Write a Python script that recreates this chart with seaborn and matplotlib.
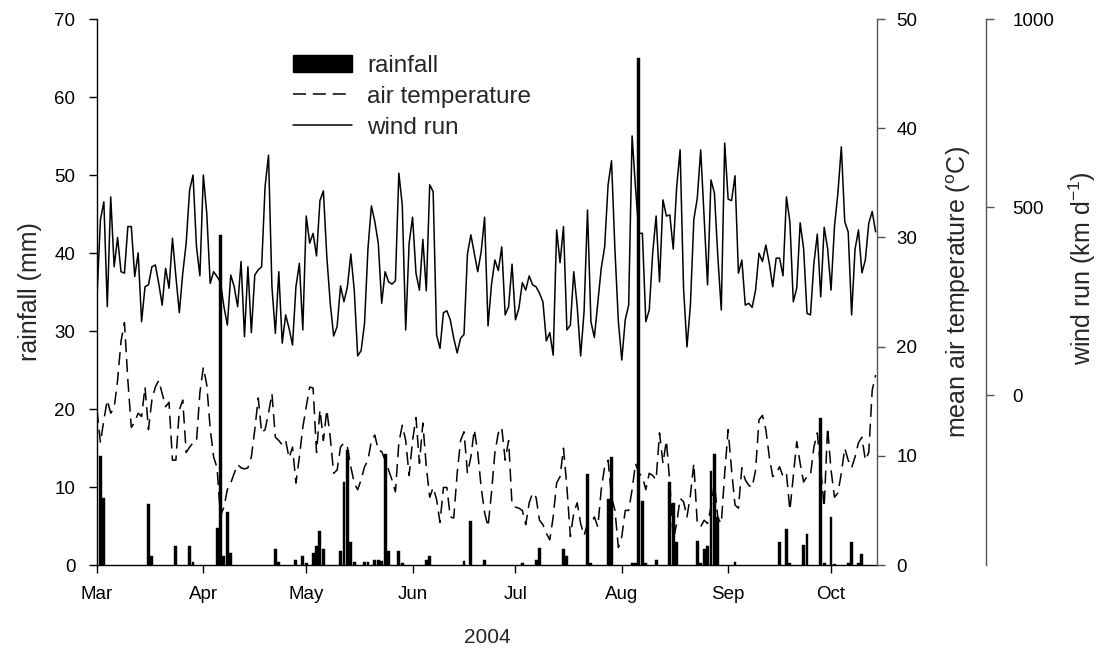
import numpy as np
import pandas as pd
import matplotlib
matplotlib.use("Agg")
import matplotlib.pyplot as plt
import matplotlib.dates as mdates
from matplotlib.lines import Line2D
from matplotlib.patches import Patch
import seaborn as sns

# ---------------- data (daily, 1 Mar 2004 .. 14 Oct 2004) ----------------
start_date = "2004-03-01"
n_days = 228

# rainfall: day index (0 = 1 Mar) and amount (mm)
rain_day = [1, 2, 15, 16, 23, 27, 28, 35, 36, 37, 38, 39,
            52, 53, 58, 60, 61, 63, 64, 65, 66, 71, 72, 73, 74, 75, 78, 79, 81,
            82, 83, 84, 85, 88, 89, 96, 97, 107, 109, 113, 124, 128, 129, 136, 137,
            143, 144, 149, 150, 156, 157, 158, 159, 160, 163,
            167, 168, 169, 175, 176, 177, 178, 179, 180, 181, 186,
            199, 201, 202, 206, 207, 211, 212, 214, 215, 219, 220, 222, 223]
rain_mm = [14.0, 8.6, 7.8, 1.2, 2.4, 2.4, 0.4, 4.8, 42.3, 1.2, 6.8, 1.6,
           2.0, 0.4, 0.6, 1.2, 0.3, 1.6, 2.5, 4.3, 2.0, 1.8, 10.7, 14.7, 3.0, 0.4, 0.4, 0.4, 0.7,
           0.6, 0.5, 14.2, 1.8, 1.8, 0.2, 0.6, 1.1, 0.5, 5.6, 0.6, 0.2, 0.6, 2.2, 2.0, 1.1,
           11.7, 0.3, 8.5, 13.8, 0.3, 0.2, 65.0, 8.2, 0.2, 0.6,
           10.6, 8.0, 3.0, 3.1, 0.3, 2.0, 2.5, 12.0, 14.2, 6.1, 0.4,
           3.0, 4.6, 0.2, 2.6, 4.0, 18.8, 0.3, 6.1, 0.1, 0.3, 2.9, 0.2, 1.4]

# mean air temperature (deg C)
air_temp = [
    14.2, 11.2, 13.3, 15.1, 13.9, 14.4, 16.9, 20.5, 22.2, 16.9,
    12.6, 13.1, 13.9, 13.6, 16.3, 12.4, 15.1, 16.3, 16.9, 15.7,
    14.5, 14.9, 9.6, 9.6, 14.2, 15.1, 10.3, 10.8, 11.2, 11.3,
    15.8, 18.1, 16.5, 12.5, 9.9, 8.9, 4.5, 5.3, 6.9, 7.5,
    8.4, 9.2, 8.9, 8.8, 8.9, 9.9, 12.4, 15.3, 12.1, 12.4,
    13.9, 15.7, 11.7, 11.4, 11.0, 11.4, 9.8, 10.8, 7.5, 9.9,
    12.6, 14.5, 16.3, 16.2, 10.3, 14.2, 11.4, 14.2, 11.7, 8.4,
    8.7, 10.8, 11.2, 10.8, 9.0, 7.5, 6.9, 7.8, 9.0, 9.6,
    11.4, 11.9, 10.5, 10.4, 9.6, 8.7, 7.8, 6.7, 11.2, 12.8,
    11.4, 8.2, 11.4, 13.5, 9.3, 13.0, 9.0, 6.2, 7.1, 6.0,
    3.9, 7.1, 7.1, 4.4, 4.3, 8.4, 11.4, 12.2, 8.4, 9.9,
    12.4, 10.3, 7.1, 4.8, 3.5, 6.6, 10.3, 12.1, 12.6, 9.6,
    11.4, 5.5, 5.3, 5.2, 5.0, 3.7, 5.7, 6.6, 6.2, 4.1,
    3.7, 2.9, 2.3, 4.4, 7.5, 8.1, 10.7, 7.1, 2.6, 4.8,
    5.7, 3.8, 2.7, 3.8, 3.8, 4.4, 3.5, 6.9, 9.0, 9.6,
    6.2, 5.0, 1.6, 2.6, 5.0, 5.0, 6.9, 9.3, 8.4, 8.1,
    6.9, 8.4, 8.2, 7.8, 12.1, 9.3, 11.4, 7.5, 2.3, 3.8,
    6.1, 5.8, 4.4, 6.4, 9.3, 3.8, 3.5, 4.1, 3.8, 5.3,
    7.5, 4.3, 3.8, 8.4, 12.4, 8.7, 5.5, 5.2, 8.9, 7.8,
    7.3, 7.1, 8.7, 13.3, 13.7, 12.4, 9.9, 8.1, 8.4, 9.0,
    8.1, 8.4, 5.0, 8.1, 11.3, 9.3, 7.6, 8.1, 8.2, 10.8,
    12.1, 8.7, 5.3, 12.6, 8.7, 6.2, 6.6, 8.4, 10.7, 9.6,
    8.9, 9.9, 11.2, 11.7, 9.6, 10.3, 16.0, 17.4]

# wind run (km/d)
wind_run = [
    261, 466, 514, 235, 527, 341, 419, 328, 324, 448,
    448, 315, 378, 195, 288, 293, 341, 346, 297, 239,
    337, 284, 417, 315, 219, 324, 404, 545, 585, 394,
    317, 585, 483, 297, 328, 315, 300, 235, 186, 319,
    288, 235, 355, 155, 341, 166, 319, 333, 341, 554,
    638, 288, 164, 328, 138, 213, 177, 133, 288, 350,
    173, 476, 404, 430, 370, 517, 543, 368, 244, 157,
    182, 290, 248, 288, 375, 279, 104, 118, 191, 390,
    503, 461, 404, 244, 328, 301, 295, 304, 590, 505,
    173, 404, 473, 324, 279, 414, 277, 559, 541, 160,
    124, 219, 224, 200, 151, 112, 151, 161, 375, 426,
    377, 328, 381, 473, 184, 293, 359, 331, 394, 213,
    235, 348, 200, 231, 299, 279, 317, 293, 288, 271,
    248, 144, 166, 106, 439, 352, 448, 173, 186, 328,
    235, 104, 222, 492, 195, 153, 244, 337, 394, 559,
    623, 386, 195, 93, 200, 239, 689, 550, 430, 430,
    195, 226, 377, 476, 301, 519, 476, 479, 388, 554,
    652, 284, 128, 239, 467, 523, 652, 470, 293, 572,
    537, 368, 226, 670, 521, 517, 583, 324, 359, 239,
    244, 233, 279, 377, 355, 399, 350, 288, 364, 364,
    317, 527, 461, 248, 284, 458, 390, 217, 213, 350,
    428, 261, 446, 390, 279, 448, 537, 660, 461, 434,
    213, 388, 439, 325, 359, 457, 488, 434]

rain_ticks = [0, 10, 20, 30, 40, 50, 60, 70]
temp_ticks = [0, 10, 20, 30, 40, 50]
wind_ticks = [0, 500, 1000]

# ---------------- frames ----------------
dates = pd.date_range(start_date, periods=n_days, freq="D")
daily = pd.DataFrame({"date": dates, "temp": air_temp, "wind": wind_run})
rain = pd.DataFrame({"date": dates[rain_day], "rain": rain_mm})

# ---------------- style ----------------
sns.set_style("ticks")
plt.rcParams["font.family"] = ["Liberation Sans", "DejaVu Sans"]
plt.rcParams["mathtext.fontset"] = "custom"
plt.rcParams["mathtext.rm"] = "Liberation Sans"
plt.rcParams["mathtext.it"] = "Liberation Sans:italic"
plt.rcParams["mathtext.bf"] = "Liberation Sans:bold"
FS = 13.5      # tick labels
LFS = 18       # axis labels
GFS = 17.5     # legend

W, H = 1105, 659
fig = plt.figure(figsize=(W / 100, H / 100), dpi=100)
L, R, T, B = 97, 877, 19, 565
ax = fig.add_axes([L / W, 1 - B / H, (R - L) / W, (B - T) / H])
ax2 = ax.twinx()
ax3 = ax.twinx()

# rainfall bars
ax.bar(rain["date"], rain["rain"], width=0.85, color="black", edgecolor="black",
       linewidth=0.3, zorder=3)
ax.set_ylim(0, 70)
ax.set_yticks(rain_ticks)
ax.set_ylabel("rainfall (mm)", fontsize=LFS)
ax.yaxis.set_label_coords((42 - L) / (R - L), 0.5)

x0 = pd.Timestamp(start_date)
xl = (x0, x0 + pd.Timedelta(days=227.4))
ax.xaxis.set_major_locator(mdates.MonthLocator())
ax.xaxis.set_major_formatter(mdates.DateFormatter("%b"))

# temperature
sns.lineplot(data=daily, x="date", y="temp", ax=ax2, color="black",
             linewidth=1.1, dashes=False)
ax2.lines[-1].set_dashes((8.5, 4.5))
ax2.set_ylim(0, 50)
ax2.set_yticks(temp_ticks)
ax2.set_ylabel(r"mean air temperature ($^{\mathrm{o}}$C)", fontsize=LFS)
ax2.yaxis.set_label_coords((944 - L) / (R - L), 0.5)

# wind run
sns.lineplot(data=daily, x="date", y="wind", ax=ax3, color="black", linewidth=1.1)
ax3.set_ylim(-452, 1000)
ax3.set_yticks(wind_ticks)
ax3.spines["right"].set_position(("axes", (986 - L) / (R - L)))
ax3.set_ylabel(r"wind run (km d$^{-1}$)", fontsize=LFS)
ax3.yaxis.set_label_coords((1067 - L) / (R - L), (565 - 268) / (B - T))

for a in (ax, ax2, ax3):
    a.set_xlim(*xl)
    a.tick_params(axis="both", direction="out", length=6, width=1,
                  labelsize=FS, colors="black")
    a.spines["top"].set_visible(False)
ax.tick_params(axis="y", pad=9.5)
ax.tick_params(axis="x", pad=9)
ax2.tick_params(axis="y", pad=8)
ax3.tick_params(axis="y", pad=13)
ax2.set_xlabel("")
ax3.set_xlabel("")
ax.set_xlabel("2004", fontsize=15, labelpad=18)
ax.spines["right"].set_visible(False)
for s in ("left", "bottom"):
    ax.spines[s].set_color("black")
    ax.spines[s].set_linewidth(1.0)
for a in (ax2, ax3):
    a.spines["left"].set_visible(False)
    a.spines["bottom"].set_visible(False)
    a.spines["right"].set_color("#555555")
    a.spines["right"].set_linewidth(1.0)
    a.tick_params(axis="y", colors="#555555", labelcolor="black")
    a.tick_params(axis="x", length=0, labelbottom=False)

handles = [Patch(facecolor="black", edgecolor="black"),
           Line2D([], [], color="black", lw=1.1, dashes=(8.5, 4.5)),
           Line2D([], [], color="black", lw=1.1)]
labels = ["rainfall", "air temperature", "wind run"]
fig.legend(handles, labels, loc="upper left",
           bbox_to_anchor=(293 / W, 1 - 55 / H), frameon=False, fontsize=GFS,
           borderpad=0, borderaxespad=0, handlelength=2.43, handleheight=0.7,
           handletextpad=0.62, labelspacing=0.36)

fig.savefig("out.png", dpi=100)
